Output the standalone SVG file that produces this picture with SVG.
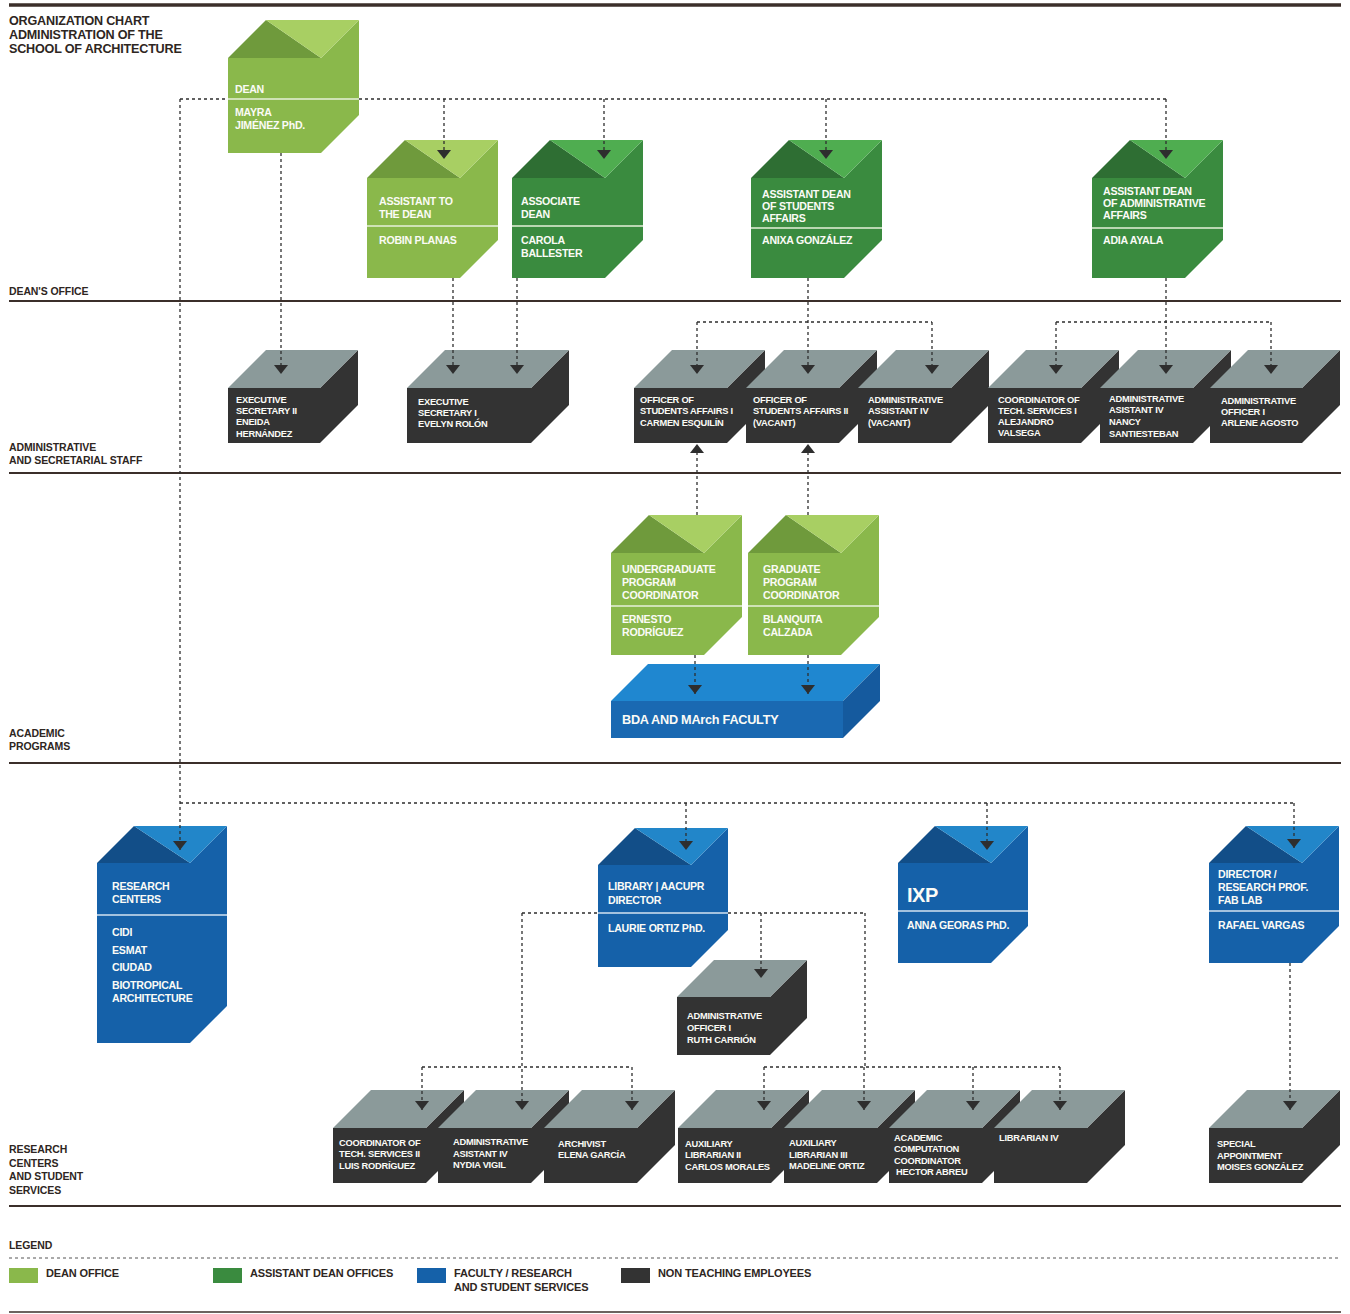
<svg xmlns="http://www.w3.org/2000/svg" width="1350" height="1314" viewBox="0 0 1350 1314">
<defs>
<style>
.t{font-family:"Liberation Sans",Arial,Helvetica,sans-serif;font-weight:bold;fill:#fbfbf6}
.g{font-size:10.6px;letter-spacing:-0.25px}
.s{font-size:9.3px;letter-spacing:-0.25px}
.lab{font-family:"Liberation Sans",Arial,Helvetica,sans-serif;font-weight:bold;fill:#2e2622;font-size:10.5px;letter-spacing:-0.1px}
.ttl{font-size:12.6px;letter-spacing:-0.2px}
.leg{font-size:11px;letter-spacing:-0.15px}
.lg .f{fill:#8ab84b}.lg .k{fill:#6f9a3c}.lg .l{fill:#a8cf63}
.dg .f{fill:#3a8b3f}.dg .k{fill:#2e6e33}.dg .l{fill:#4fad50}
.bl .f{fill:#1561a9}.bl .k{fill:#124e88}.bl .l{fill:#2286c9}
.dk .f{fill:#333333}.dk .k{fill:#8b9a9a}
.dv{stroke:#e6f0da;stroke-width:1.5}
.bl .dv{stroke:#d3e3f2}
.rule{stroke:#3b2f2a;fill:none}
.c{fill:none;stroke:#2e2e2e;stroke-width:1.3;stroke-dasharray:3 3}
</style>
<marker id="ar" viewBox="0 0 9 14" refX="9" refY="7" markerWidth="9" markerHeight="14" markerUnits="userSpaceOnUse" orient="auto">
<path d="M0,0 L9,7 L0,14 z" fill="#2e2e2e"/>
</marker>
</defs>
<rect width="1350" height="1314" fill="#ffffff"/>

<g id="rules">
<line class="rule" x1="9" y1="5" x2="1341" y2="5" stroke-width="3.5"/>
<line class="rule" x1="9" y1="301" x2="1341" y2="301" stroke-width="2"/>
<line class="rule" x1="9" y1="473" x2="1341" y2="473" stroke-width="2"/>
<line class="rule" x1="9" y1="763" x2="1341" y2="763" stroke-width="2"/>
<line class="rule" x1="9" y1="1206" x2="1341" y2="1206" stroke-width="2"/>
<line class="rule" x1="9" y1="1312" x2="1341" y2="1312" stroke-width="1.5"/>
<line x1="9" y1="1258" x2="1341" y2="1258" stroke="#555" stroke-width="1" stroke-dasharray="3 3"/>
</g>

<g id="labels">
<text class="lab ttl" x="9" y="25">ORGANIZATION CHART</text>
<text class="lab ttl" x="9" y="39">ADMINISTRATION OF THE</text>
<text class="lab ttl" x="9" y="53">SCHOOL OF ARCHITECTURE</text>
<text class="lab" x="9" y="295">DEAN'S OFFICE</text>
<text class="lab" x="9" y="451">ADMINISTRATIVE</text>
<text class="lab" x="9" y="464">AND SECRETARIAL STAFF</text>
<text class="lab" x="9" y="737">ACADEMIC</text>
<text class="lab" x="9" y="750">PROGRAMS</text>
<text class="lab" x="9" y="1153">RESEARCH</text>
<text class="lab" x="9" y="1167">CENTERS</text>
<text class="lab" x="9" y="1180">AND STUDENT</text>
<text class="lab" x="9" y="1194">SERVICES</text>
</g>

<g id="legend">
<text class="lab" x="9" y="1249" font-size="11.5">LEGEND</text>
<rect x="9" y="1268" width="29" height="15" fill="#8ab84b"/>
<text class="lab leg" x="46" y="1277">DEAN OFFICE</text>
<rect x="213" y="1268" width="29" height="15" fill="#3a8b3f"/>
<text class="lab leg" x="250" y="1277">ASSISTANT DEAN OFFICES</text>
<rect x="417" y="1268" width="29" height="15" fill="#1561a9"/>
<text class="lab leg" x="454" y="1277">FACULTY / RESEARCH</text>
<text class="lab leg" x="454" y="1291">AND STUDENT SERVICES</text>
<rect x="621" y="1268" width="29" height="15" fill="#333333"/>
<text class="lab leg" x="658" y="1277">NON TEACHING EMPLOYEES</text>
</g>

<!-- Dean's office -->
<g id="dean" class="lg">
<polygon class="f" points="228,58 321,58 359,20 359,115 321,153 228,153"/>
<polygon class="k" points="228,58 266,20 321,58"/>
<polygon class="l" points="266,20 359,20 321,58"/>
<line class="dv" x1="228" y1="99" x2="359" y2="99"/>
<text class="t g" x="235" y="93">DEAN</text>
<text class="t g" x="235" y="116">MAYRA</text>
<text class="t g" x="235" y="129">JIMÉNEZ PhD.</text>
</g>
<g id="assistant-dean" class="lg">
<polygon class="f" points="367,178 460,178 498,140 498,240 460,278 367,278"/>
<polygon class="k" points="367,178 405,140 460,178"/>
<polygon class="l" points="405,140 498,140 460,178"/>
<line class="dv" x1="367" y1="226" x2="498" y2="226"/>
<text class="t g" x="379" y="205">ASSISTANT TO</text>
<text class="t g" x="379" y="218">THE DEAN</text>
<text class="t g" x="379" y="244">ROBIN PLANAS</text>
</g>
<g id="associate-dean" class="dg">
<polygon class="f" points="512,178 605,178 643,140 643,240 605,278 512,278"/>
<polygon class="k" points="512,178 550,140 605,178"/>
<polygon class="l" points="550,140 643,140 605,178"/>
<line class="dv" x1="512" y1="226" x2="643" y2="226"/>
<text class="t g" x="521" y="205">ASSOCIATE</text>
<text class="t g" x="521" y="218">DEAN</text>
<text class="t g" x="521" y="244">CAROLA</text>
<text class="t g" x="521" y="257">BALLESTER</text>
</g>
<g id="asst-dean-students" class="dg">
<polygon class="f" points="751,178 844,178 882,140 882,240 844,278 751,278"/>
<polygon class="k" points="751,178 789,140 844,178"/>
<polygon class="l" points="789,140 882,140 844,178"/>
<line class="dv" x1="751" y1="228" x2="882" y2="228"/>
<text class="t g" x="762" y="198">ASSISTANT DEAN</text>
<text class="t g" x="762" y="210">OF STUDENTS</text>
<text class="t g" x="762" y="222">AFFAIRS</text>
<text class="t g" x="762" y="244">ANIXA GONZÁLEZ</text>
</g>
<g id="asst-dean-admin" class="dg">
<polygon class="f" points="1092,178 1185,178 1223,140 1223,240 1185,278 1092,278"/>
<polygon class="k" points="1092,178 1130,140 1185,178"/>
<polygon class="l" points="1130,140 1223,140 1185,178"/>
<line class="dv" x1="1092" y1="228" x2="1223" y2="228"/>
<text class="t g" x="1103" y="195">ASSISTANT DEAN</text>
<text class="t g" x="1103" y="207">OF ADMINISTRATIVE</text>
<text class="t g" x="1103" y="219">AFFAIRS</text>
<text class="t g" x="1103" y="244">ADIA AYALA</text>
</g>

<!-- Administrative and secretarial staff -->
<g id="exec-sec-2" class="dk">
<polygon class="f" points="228,388 320,388 358,350 358,405 320,443 228,443"/>
<polygon class="k" points="228,388 266,350 358,350 320,388"/>
<text class="t s" x="236" y="403">EXECUTIVE</text>
<text class="t s" x="236" y="414">SECRETARY II</text>
<text class="t s" x="236" y="425">ENEIDA</text>
<text class="t s" x="236" y="437">HERNÁNDEZ</text>
</g>
<g id="exec-sec-1" class="dk">
<polygon class="f" points="407,388 531,388 569,350 569,405 531,443 407,443"/>
<polygon class="k" points="407,388 445,350 569,350 531,388"/>
<text class="t s" x="418" y="405">EXECUTIVE</text>
<text class="t s" x="418" y="416">SECRETARY I</text>
<text class="t s" x="418" y="427">EVELYN ROLÓN</text>
</g>
<g id="officer-sa-1" class="dk">
<polygon class="f" points="634,388 727,388 765,350 765,405 727,443 634,443"/>
<polygon class="k" points="634,388 672,350 765,350 727,388"/>
<text class="t s" x="640" y="403">OFFICER OF</text>
<text class="t s" x="640" y="414">STUDENTS AFFAIRS I</text>
<text class="t s" x="640" y="426">CARMEN ESQUILÍN</text>
</g>
<g id="officer-sa-2" class="dk">
<polygon class="f" points="746,388 839,388 877,350 877,405 839,443 746,443"/>
<polygon class="k" points="746,388 784,350 877,350 839,388"/>
<text class="t s" x="753" y="403">OFFICER OF</text>
<text class="t s" x="753" y="414">STUDENTS AFFAIRS II</text>
<text class="t s" x="753" y="426">(VACANT)</text>
</g>
<g id="admin-asst-4-vacant" class="dk">
<polygon class="f" points="858,388 951,388 989,350 989,405 951,443 858,443"/>
<polygon class="k" points="858,388 896,350 989,350 951,388"/>
<text class="t s" x="868" y="403">ADMINISTRATIVE</text>
<text class="t s" x="868" y="414">ASSISTANT IV</text>
<text class="t s" x="868" y="426">(VACANT)</text>
</g>
<g id="coord-tech-1" class="dk">
<polygon class="f" points="988,388 1081,388 1119,350 1119,405 1081,443 988,443"/>
<polygon class="k" points="988,388 1026,350 1119,350 1081,388"/>
<text class="t s" x="998" y="403">COORDINATOR OF</text>
<text class="t s" x="998" y="414">TECH. SERVICES I</text>
<text class="t s" x="998" y="425">ALEJANDRO</text>
<text class="t s" x="998" y="436">VALSEGA</text>
</g>
<g id="admin-asst-4-nancy" class="dk">
<polygon class="f" points="1100,388 1193,388 1231,350 1231,405 1193,443 1100,443"/>
<polygon class="k" points="1100,388 1138,350 1231,350 1193,388"/>
<text class="t s" x="1109" y="402">ADMINISTRATIVE</text>
<text class="t s" x="1109" y="413">ASISTANT IV</text>
<text class="t s" x="1109" y="425">NANCY</text>
<text class="t s" x="1109" y="437">SANTIESTEBAN</text>
</g>
<g id="admin-officer-arlene" class="dk">
<polygon class="f" points="1210,388 1302,388 1340,350 1340,405 1302,443 1210,443"/>
<polygon class="k" points="1210,388 1248,350 1340,350 1302,388"/>
<text class="t s" x="1221" y="404">ADMINISTRATIVE</text>
<text class="t s" x="1221" y="415">OFFICER I</text>
<text class="t s" x="1221" y="426">ARLENE AGOSTO</text>
</g>

<!-- Academic programs -->
<g id="undergrad-coord" class="lg">
<polygon class="f" points="611,553 704,553 742,515 742,617 704,655 611,655"/>
<polygon class="k" points="611,553 649,515 704,553"/>
<polygon class="l" points="649,515 742,515 704,553"/>
<line class="dv" x1="611" y1="606" x2="742" y2="606"/>
<text class="t g" x="622" y="573">UNDERGRADUATE</text>
<text class="t g" x="622" y="586">PROGRAM</text>
<text class="t g" x="622" y="599">COORDINATOR</text>
<text class="t g" x="622" y="623">ERNESTO</text>
<text class="t g" x="622" y="636">RODRÍGUEZ</text>
</g>
<g id="grad-coord" class="lg">
<polygon class="f" points="748,553 841,553 879,515 879,617 841,655 748,655"/>
<polygon class="k" points="748,553 786,515 841,553"/>
<polygon class="l" points="786,515 879,515 841,553"/>
<line class="dv" x1="748" y1="606" x2="879" y2="606"/>
<text class="t g" x="763" y="573">GRADUATE</text>
<text class="t g" x="763" y="586">PROGRAM</text>
<text class="t g" x="763" y="599">COORDINATOR</text>
<text class="t g" x="763" y="623">BLANQUITA</text>
<text class="t g" x="763" y="636">CALZADA</text>
</g>
<g id="faculty">
<polygon points="611,701 648,664 880,664 843,701" fill="#1f87d0"/>
<polygon points="611,701 843,701 843,738 611,738" fill="#1a69b2"/>
<polygon points="843,701 880,664 880,701 843,738" fill="#155a9e"/>
<text class="t" x="622" y="724" font-size="12.7" letter-spacing="-0.25">BDA AND MArch FACULTY</text>
</g>

<!-- Research centers and student services -->
<g id="research-centers" class="bl">
<polygon class="f" points="97,863 190,863 227,826 227,1006 190,1043 97,1043"/>
<polygon class="k" points="97,863 134,826 190,863"/>
<polygon class="l" points="134,826 227,826 190,863"/>
<line class="dv" x1="97" y1="915" x2="227" y2="915"/>
<text class="t g" x="112" y="890">RESEARCH</text>
<text class="t g" x="112" y="903">CENTERS</text>
<text class="t g" x="112" y="936">CIDI</text>
<text class="t g" x="112" y="954">ESMAT</text>
<text class="t g" x="112" y="971">CIUDAD</text>
<text class="t g" x="112" y="989">BIOTROPICAL</text>
<text class="t g" x="112" y="1002">ARCHITECTURE</text>
</g>
<g id="library" class="bl">
<polygon class="f" points="598,865 691,865 728,828 728,930 691,967 598,967"/>
<polygon class="k" points="598,865 635,828 691,865"/>
<polygon class="l" points="635,828 728,828 691,865"/>
<line class="dv" x1="598" y1="913" x2="728" y2="913"/>
<text class="t g" x="608" y="890">LIBRARY | AACUPR</text>
<text class="t g" x="608" y="904">DIRECTOR</text>
<text class="t g" x="608" y="932">LAURIE ORTIZ PhD.</text>
</g>
<g id="ixp" class="bl">
<polygon class="f" points="898,863 991,863 1028,826 1028,926 991,963 898,963"/>
<polygon class="k" points="898,863 935,826 991,863"/>
<polygon class="l" points="935,826 1028,826 991,863"/>
<line class="dv" x1="898" y1="911" x2="1028" y2="911"/>
<text class="t" x="907" y="902" font-size="20" letter-spacing="-0.5">IXP</text>
<text class="t g" x="907" y="929">ANNA GEORAS PhD.</text>
</g>
<g id="fab-lab" class="bl">
<polygon class="f" points="1209,863 1302,863 1339,826 1339,926 1302,963 1209,963"/>
<polygon class="k" points="1209,863 1246,826 1302,863"/>
<polygon class="l" points="1246,826 1339,826 1302,863"/>
<line class="dv" x1="1209" y1="911" x2="1339" y2="911"/>
<text class="t g" x="1218" y="878">DIRECTOR /</text>
<text class="t g" x="1218" y="891">RESEARCH PROF.</text>
<text class="t g" x="1218" y="904">FAB LAB</text>
<text class="t g" x="1218" y="929">RAFAEL VARGAS</text>
</g>
<g id="admin-officer-ruth" class="dk">
<polygon class="f" points="677,997 770,997 807,960 807,1018 770,1055 677,1055"/>
<polygon class="k" points="677,997 714,960 807,960 770,997"/>
<text class="t s" x="687" y="1019">ADMINISTRATIVE</text>
<text class="t s" x="687" y="1031">OFFICER I</text>
<text class="t s" x="687" y="1043">RUTH CARRIÓN</text>
</g>
<g id="coord-tech-2" class="dk">
<polygon class="f" points="333,1128 426,1128 464,1090 464,1145 426,1183 333,1183"/>
<polygon class="k" points="333,1128 371,1090 464,1090 426,1128"/>
<text class="t s" x="339" y="1146">COORDINATOR OF</text>
<text class="t s" x="339" y="1157">TECH. SERVICES II</text>
<text class="t s" x="339" y="1169">LUIS RODRÍGUEZ</text>
</g>
<g id="admin-asst-nydia" class="dk">
<polygon class="f" points="438,1128 531,1128 569,1090 569,1145 531,1183 438,1183"/>
<polygon class="k" points="438,1128 476,1090 569,1090 531,1128"/>
<text class="t s" x="453" y="1145">ADMINISTRATIVE</text>
<text class="t s" x="453" y="1157">ASISTANT  IV</text>
<text class="t s" x="453" y="1168">NYDIA VIGIL</text>
</g>
<g id="archivist" class="dk">
<polygon class="f" points="544,1128 637,1128 675,1090 675,1145 637,1183 544,1183"/>
<polygon class="k" points="544,1128 582,1090 675,1090 637,1128"/>
<text class="t s" x="558" y="1147">ARCHIVIST</text>
<text class="t s" x="558" y="1158">ELENA GARCÍA</text>
</g>
<g id="aux-librarian-2" class="dk">
<polygon class="f" points="678,1128 771,1128 809,1090 809,1145 771,1183 678,1183"/>
<polygon class="k" points="678,1128 716,1090 809,1090 771,1128"/>
<text class="t s" x="685" y="1147">AUXILIARY</text>
<text class="t s" x="685" y="1158">LIBRARIAN II</text>
<text class="t s" x="685" y="1170">CARLOS MORALES</text>
</g>
<g id="aux-librarian-3" class="dk">
<polygon class="f" points="784,1128 877,1128 915,1090 915,1145 877,1183 784,1183"/>
<polygon class="k" points="784,1128 822,1090 915,1090 877,1128"/>
<text class="t s" x="789" y="1146">AUXILIARY</text>
<text class="t s" x="789" y="1158">LIBRARIAN III</text>
<text class="t s" x="789" y="1169">MADELINE ORTIZ</text>
</g>
<g id="academic-computation" class="dk">
<polygon class="f" points="889,1128 982,1128 1020,1090 1020,1145 982,1183 889,1183"/>
<polygon class="k" points="889,1128 927,1090 1020,1090 982,1128"/>
<text class="t s" x="894" y="1141">ACADEMIC</text>
<text class="t s" x="894" y="1152">COMPUTATION</text>
<text class="t s" x="894" y="1164">COORDINATOR</text>
<text class="t s" x="896" y="1175">HECTOR ABREU</text>
</g>
<g id="librarian-4" class="dk">
<polygon class="f" points="994,1128 1087,1128 1125,1090 1125,1145 1087,1183 994,1183"/>
<polygon class="k" points="994,1128 1032,1090 1125,1090 1087,1128"/>
<text class="t s" x="999" y="1141">LIBRARIAN IV</text>
</g>
<g id="special-appointment" class="dk">
<polygon class="f" points="1209,1128 1302,1128 1340,1090 1340,1145 1302,1183 1209,1183"/>
<polygon class="k" points="1209,1128 1247,1090 1340,1090 1302,1128"/>
<text class="t s" x="1217" y="1147">SPECIAL</text>
<text class="t s" x="1217" y="1159">APPOINTMENT</text>
<text class="t s" x="1217" y="1170">MOISES GONZÁLEZ</text>
</g>

<g id="connectors">
<path class="c" d="M180,99 H228"/>
<path class="c" d="M359,99 H1166"/>
<path class="c" d="M444,99 V159" marker-end="url(#ar)"/>
<path class="c" d="M604,99 V159" marker-end="url(#ar)"/>
<path class="c" d="M826,99 V159" marker-end="url(#ar)"/>
<path class="c" d="M1166,99 V159" marker-end="url(#ar)"/>
<path class="c" d="M281,153 V374" marker-end="url(#ar)"/>
<path class="c" d="M453,278 V374" marker-end="url(#ar)"/>
<path class="c" d="M517,278 V374" marker-end="url(#ar)"/>
<path class="c" d="M808,278 V374" marker-end="url(#ar)"/>
<path class="c" d="M697,322 H932"/>
<path class="c" d="M697,322 V374" marker-end="url(#ar)"/>
<path class="c" d="M932,322 V374" marker-end="url(#ar)"/>
<path class="c" d="M1166,278 V374" marker-end="url(#ar)"/>
<path class="c" d="M1056,322 H1271"/>
<path class="c" d="M1056,322 V374" marker-end="url(#ar)"/>
<path class="c" d="M1271,322 V374" marker-end="url(#ar)"/>
<path class="c" d="M697,515 V444" marker-end="url(#ar)"/>
<path class="c" d="M808,515 V444" marker-end="url(#ar)"/>
<path class="c" d="M695,655 V694" marker-end="url(#ar)"/>
<path class="c" d="M808,655 V694" marker-end="url(#ar)"/>
<path class="c" d="M180,99 V850" marker-end="url(#ar)"/>
<path class="c" d="M180,803 H1294"/>
<path class="c" d="M686,803 V850" marker-end="url(#ar)"/>
<path class="c" d="M987,803 V850" marker-end="url(#ar)"/>
<path class="c" d="M1294,803 V848" marker-end="url(#ar)"/>
<path class="c" d="M522,913 H598"/>
<path class="c" d="M728,913 H865"/>
<path class="c" d="M761,913 V978" marker-end="url(#ar)"/>
<path class="c" d="M522,913 V1110" marker-end="url(#ar)"/>
<path class="c" d="M422,1067 H632"/>
<path class="c" d="M422,1067 V1110" marker-end="url(#ar)"/>
<path class="c" d="M632,1067 V1110" marker-end="url(#ar)"/>
<path class="c" d="M865,913 V1067"/>
<path class="c" d="M764,1067 H1060"/>
<path class="c" d="M764,1067 V1110" marker-end="url(#ar)"/>
<path class="c" d="M864,1067 V1110" marker-end="url(#ar)"/>
<path class="c" d="M973,1067 V1110" marker-end="url(#ar)"/>
<path class="c" d="M1060,1067 V1110" marker-end="url(#ar)"/>
<path class="c" d="M1290,963 V1110" marker-end="url(#ar)"/>
</g>
</svg>
